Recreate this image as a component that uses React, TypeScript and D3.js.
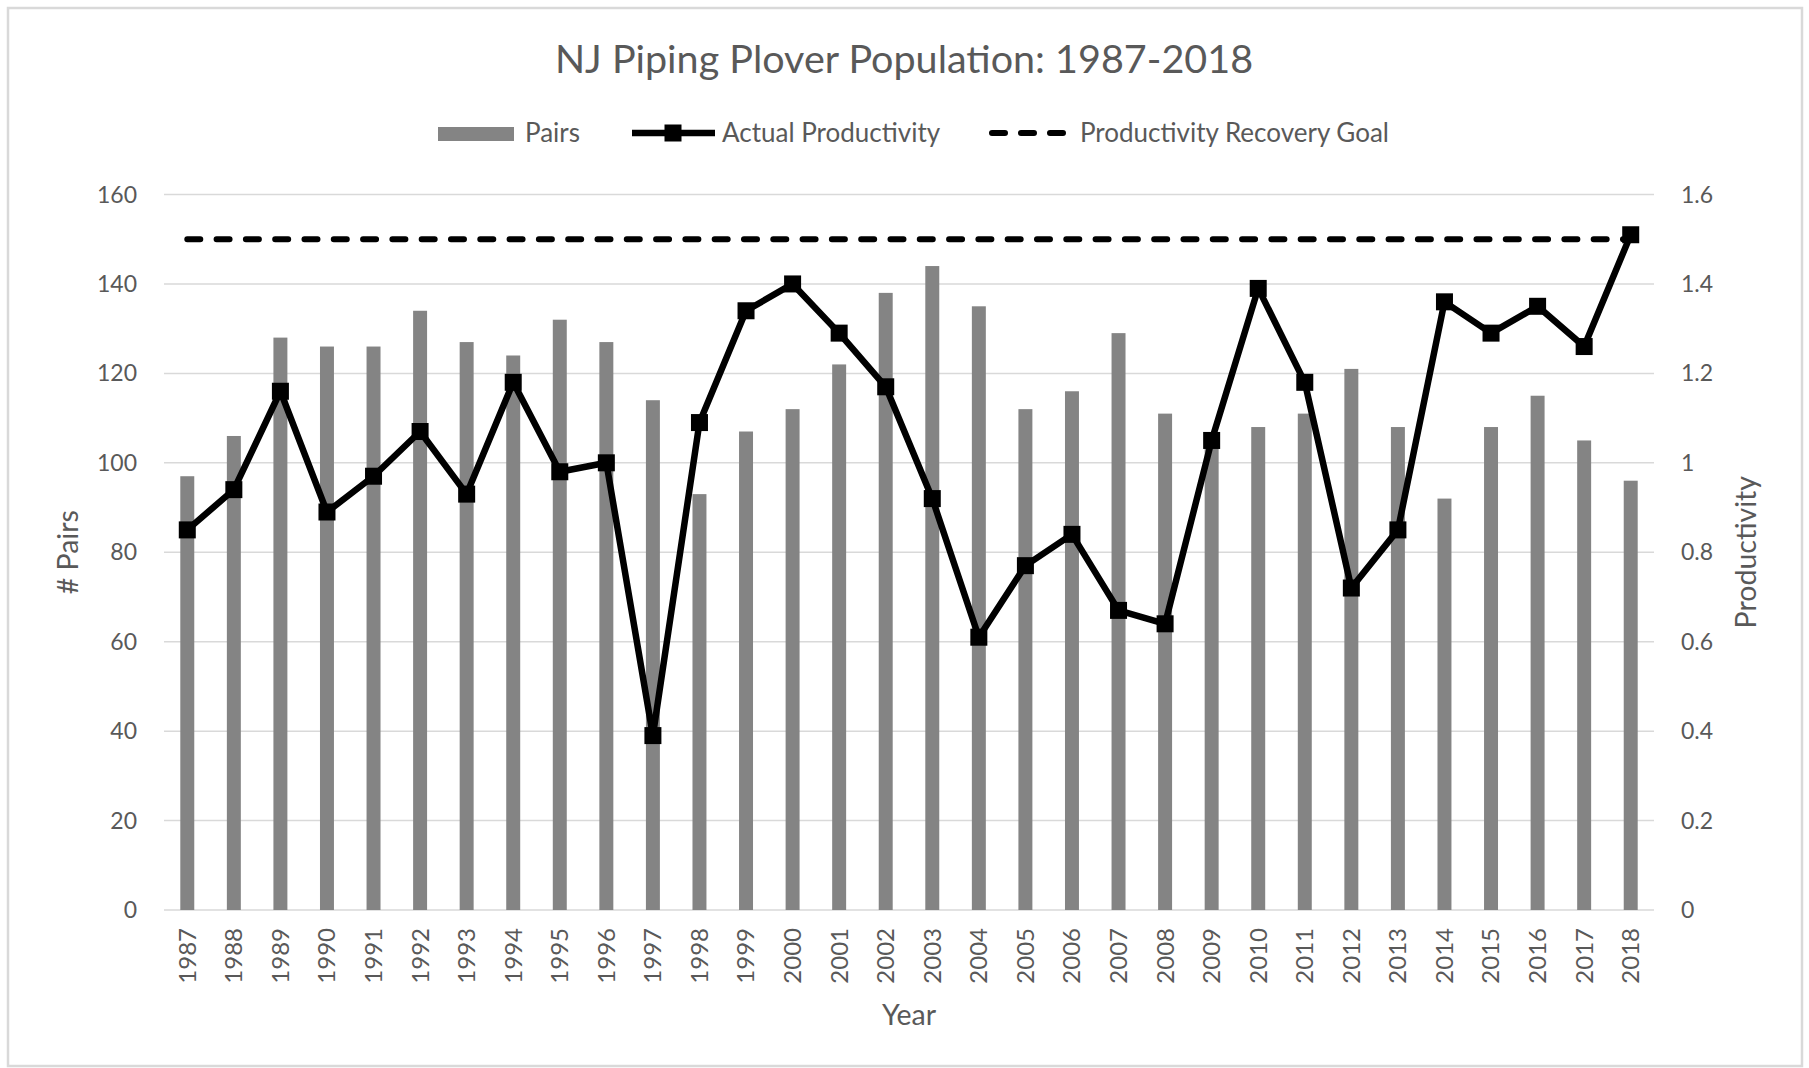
import React from 'react';
import * as d3 from 'd3';

// chart data
const years = [
  '1987', '1988', '1989', '1990', '1991', '1992', '1993', '1994', '1995', '1996',
  '1997', '1998', '1999', '2000', '2001', '2002', '2003', '2004', '2005', '2006',
  '2007', '2008', '2009', '2010', '2011', '2012', '2013', '2014', '2015', '2016',
  '2017', '2018',
];
const pairs = [
  97, 106, 128, 126, 126, 134, 127, 124, 132, 127,
  114, 93, 107, 112, 122, 138, 144, 135, 112, 116,
  129, 111, 105, 108, 111, 121, 108, 92, 108, 115,
  105, 96,
];
const productivity = [
  0.85, 0.94, 1.16, 0.89, 0.97, 1.07, 0.93, 1.18, 0.98, 1.0,
  0.39, 1.09, 1.34, 1.4, 1.29, 1.17, 0.92, 0.61, 0.77, 0.84,
  0.67, 0.64, 1.05, 1.39, 1.18, 0.72, 0.85, 1.36, 1.29, 1.35,
  1.26, 1.51,
];
const recoveryGoal = 1.5;
const leftTicks = [0, 20, 40, 60, 80, 100, 120, 140, 160];
const rightTicks = [0, 0.2, 0.4, 0.6, 0.8, 1, 1.2, 1.4, 1.6];
const rightTickLabels = ['0', '0.2', '0.4', '0.6', '0.8', '1', '1.2', '1.4', '1.6'];

const W = 1809;
const H = 1068;
const plot = { left: 164, right: 1654, top: 194.5, bottom: 910 };
const FONT = 'Lato, "Open Sans", sans-serif';
const TEXT = '#595959';
const GRID = '#d9d9d9';
const BAR = '#848484';

const App: React.FC = () => {
  const x = d3.scaleBand<string>()
    .domain(years)
    .range([plot.left, plot.right])
    .paddingInner(0.7)
    .paddingOuter(0.35);
  const yLeft = d3.scaleLinear().domain([0, 160]).range([plot.bottom, plot.top]);
  const yRight = d3.scaleLinear().domain([0, 1.6]).range([plot.bottom, plot.top]);
  const cx = (yr: string) => (x(yr) ?? 0) + x.bandwidth() / 2;

  const prodLine = d3.line<number>()
    .x((_, i) => cx(years[i]))
    .y(d => yRight(d));
  const goalLine = d3.line<string>()
    .x(d => cx(d))
    .y(() => yRight(recoveryGoal));

  const midY = (plot.top + plot.bottom) / 2;
  const midX = (plot.left + plot.right) / 2;
  const mk = 17;
  const legY = 133;

  return (
    <div style={{ position: 'absolute', left: 0, top: 0 }}>
      <svg width={W} height={H} style={{ display: 'block' }} fontFamily={FONT}>
        <rect x={8} y={8} width={1794} height={1058} fill="#fff" stroke={GRID} strokeWidth={2.5} />

        <text x={904} y={73} textAnchor="middle" fontSize={39.5} fill={TEXT}>
          NJ Piping Plover Population: 1987-2018
        </text>

        {/* legend */}
        <g fontSize={26} fill={TEXT}>
          <rect x={438} y={legY - 6} width={76} height={14} fill={BAR} />
          <text x={525} y={legY} dy="0.35em">Pairs</text>
          <line x1={632} x2={715} y1={legY} y2={legY} stroke="#000" strokeWidth={6.5} />
          <rect x={673 - mk / 2} y={legY - mk / 2} width={mk} height={mk} fill="#000" />
          <text x={722} y={legY} dy="0.35em">Actual Productivity</text>
          <line x1={992} x2={1068} y1={legY} y2={legY} stroke="#000" strokeWidth={6}
            strokeDasharray="13,16" strokeLinecap="round" />
          <text x={1080} y={legY} dy="0.35em">Productivity Recovery Goal</text>
        </g>

        {/* grid */}
        {leftTicks.map(t => (
          <line key={t} x1={plot.left} x2={plot.right} y1={yLeft(t)} y2={yLeft(t)}
            stroke={GRID} strokeWidth={1.5} />
        ))}

        {/* bars */}
        {years.map((yr, i) => (
          <rect key={yr} x={x(yr)} y={yLeft(pairs[i])} width={x.bandwidth()}
            height={plot.bottom - yLeft(pairs[i])} fill={BAR} />
        ))}

        {/* goal */}
        <path d={goalLine(years) ?? ''} fill="none" stroke="#000" strokeWidth={6}
          strokeDasharray="13,16.3" strokeLinecap="round" />

        {/* productivity */}
        <path d={prodLine(productivity) ?? ''} fill="none" stroke="#000" strokeWidth={6.5}
          strokeLinejoin="round" />
        {productivity.map((p, i) => (
          <rect key={years[i]} x={cx(years[i]) - mk / 2} y={yRight(p) - mk / 2}
            width={mk} height={mk} fill="#000" />
        ))}

        {/* left axis */}
        <g fontSize={23} fill={TEXT} textAnchor="end">
          {leftTicks.map(t => (
            <text key={t} x={137} y={yLeft(t)} dy="0.35em">{t}</text>
          ))}
        </g>
        {/* right axis */}
        <g fontSize={23} fill={TEXT}>
          {rightTicks.map((t, i) => (
            <text key={t} x={1681} y={yRight(t)} dy="0.35em">{rightTickLabels[i]}</text>
          ))}
        </g>
        {/* x axis */}
        <g fontSize={24} fill={TEXT} textAnchor="end">
          {years.map(yr => (
            <text key={yr} transform={`translate(${cx(yr)},928) rotate(-90)`} dy="0.35em">{yr}</text>
          ))}
        </g>

        {/* axis titles */}
        <text transform={`translate(68,${midY}) rotate(-90)`} textAnchor="middle" dy="0.35em"
          fontSize={28.5} fill={TEXT}># Pairs</text>
        <text transform={`translate(1746,${midY}) rotate(-90)`} textAnchor="middle" dy="0.35em"
          fontSize={28.5} fill={TEXT}>Productivity</text>
        <text x={midX} y={1015} textAnchor="middle" dy="0.35em" fontSize={28.5} fill={TEXT}>Year</text>
      </svg>
    </div>
  );
};

export default App;
